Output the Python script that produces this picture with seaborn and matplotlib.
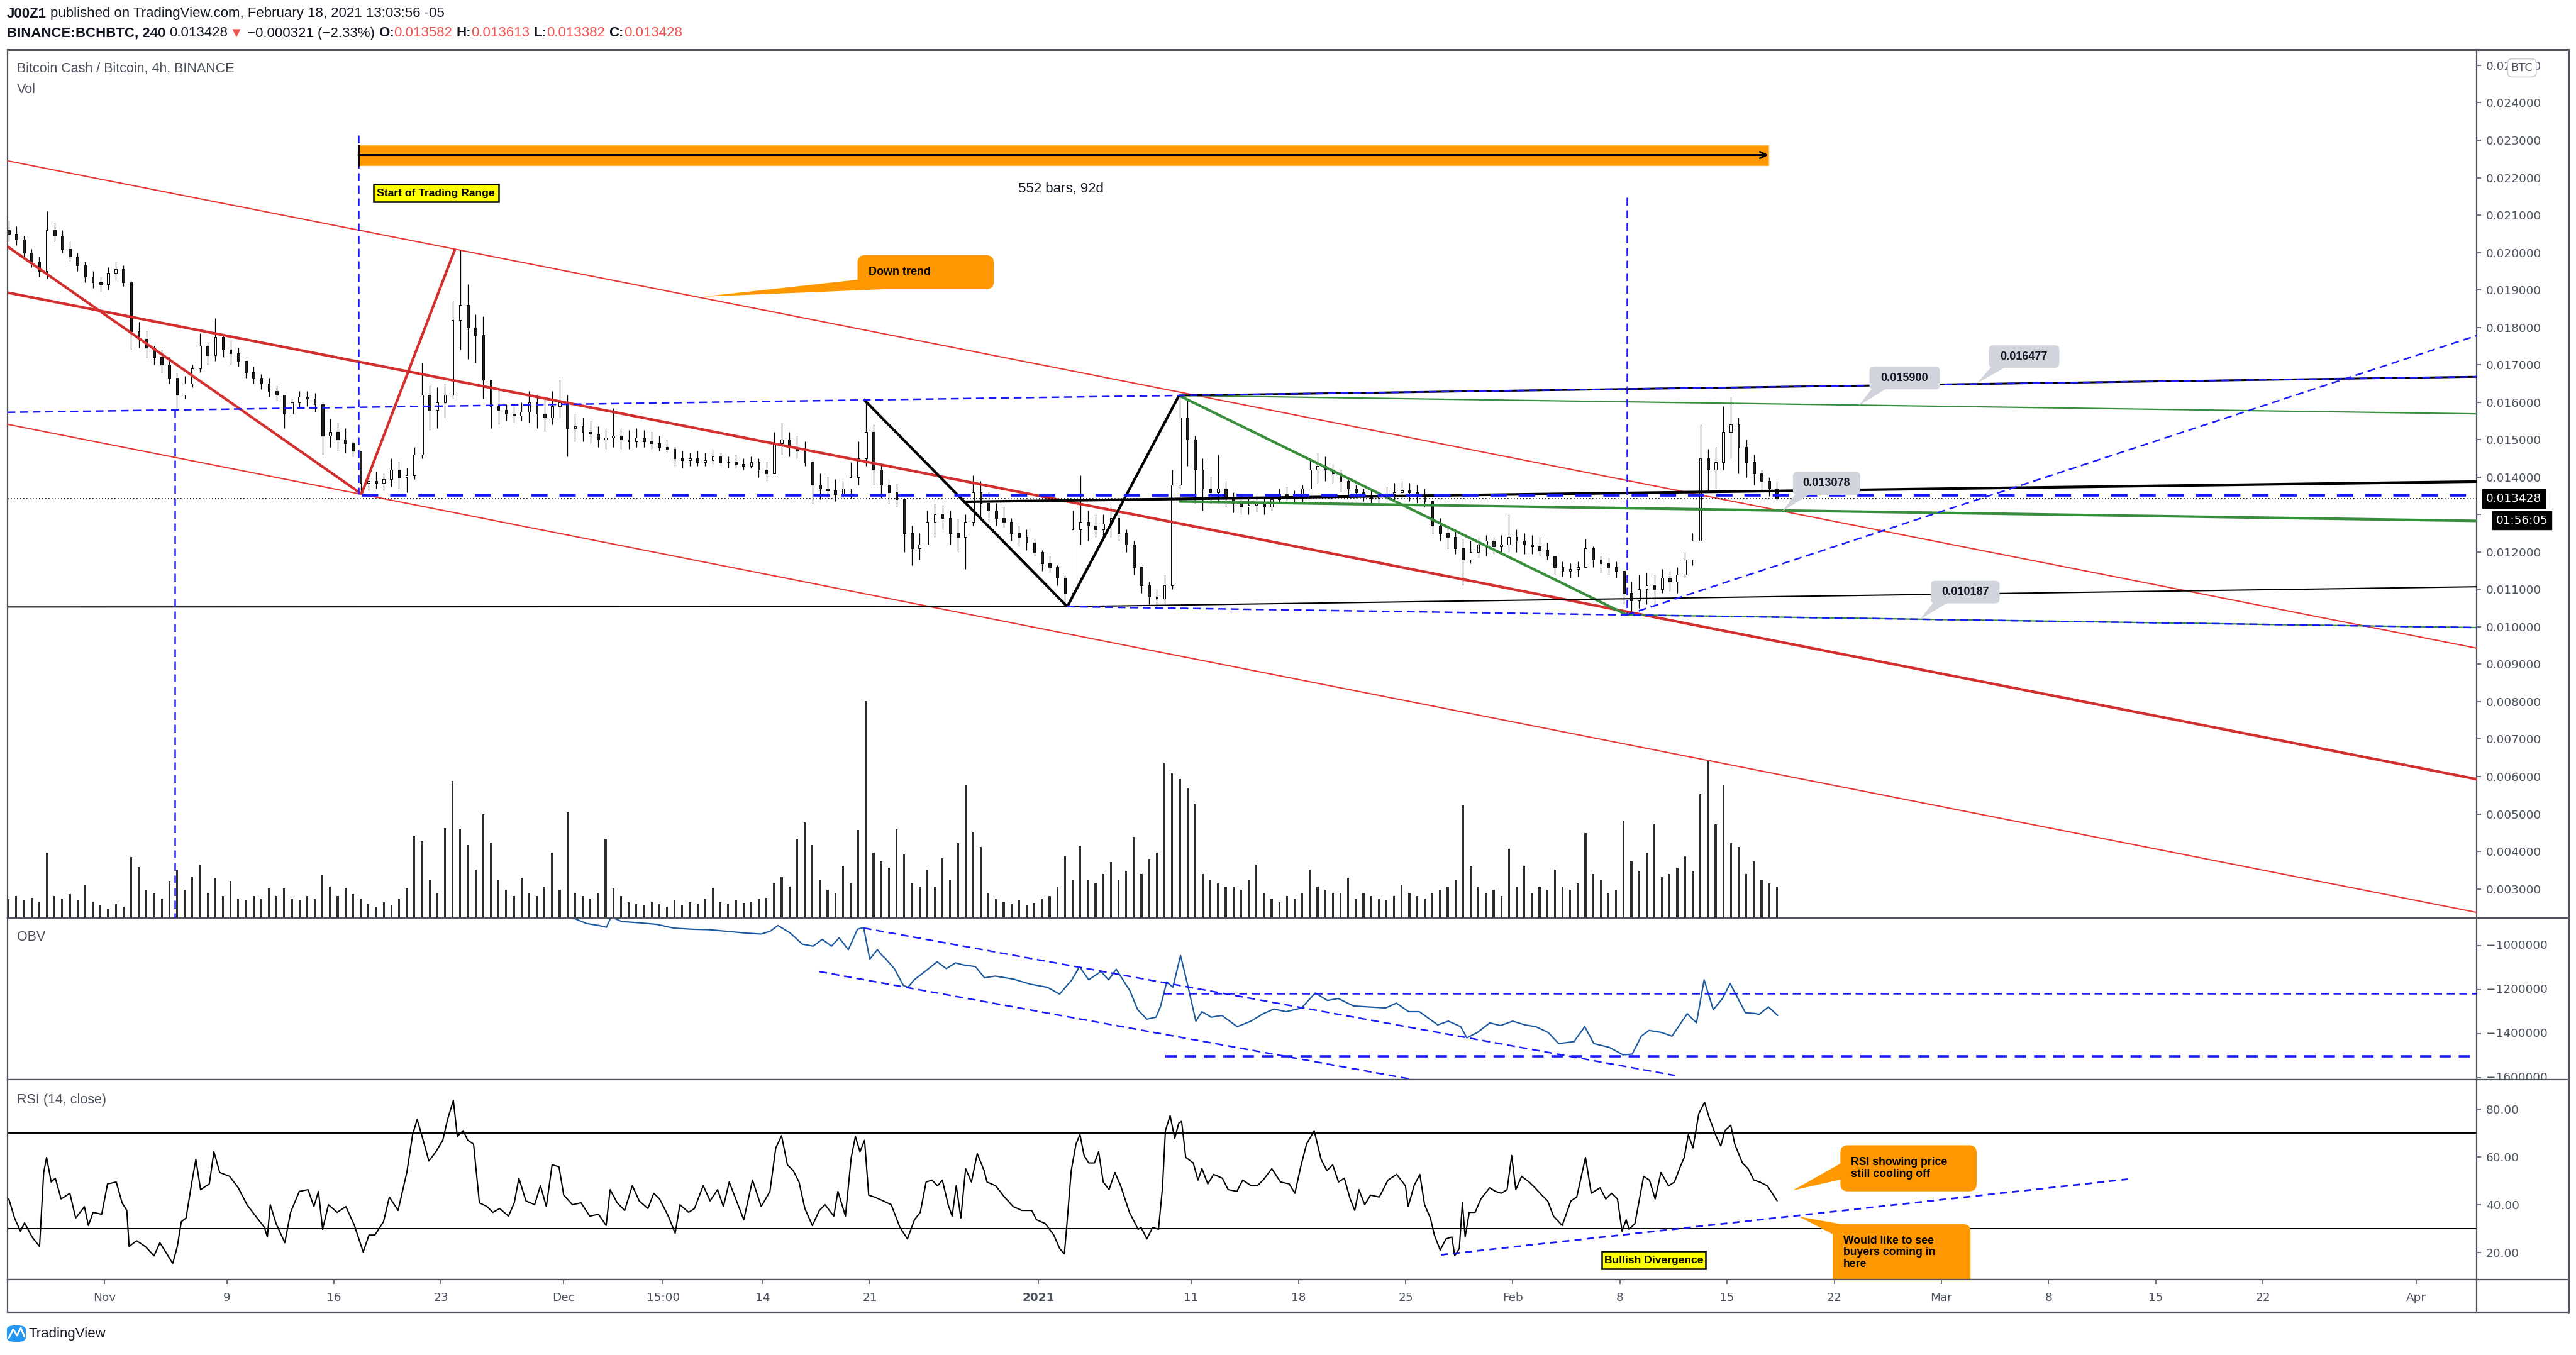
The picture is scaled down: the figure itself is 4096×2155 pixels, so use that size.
import numpy as np
import pandas as pd
import matplotlib
matplotlib.use("Agg")
import matplotlib.pyplot as plt
import seaborn as sns
from matplotlib import font_manager as fm
from matplotlib.patches import Rectangle, FancyBboxPatch, Polygon
from matplotlib.transforms import blended_transform_factory, Bbox, TransformedBbox
from matplotlib.lines import Line2D

# ======================= DATA =======================
first_bar = "2020-10-25 12:00"      # 12h bars, prices in units of 1e-5 BTC
price_unit = 1e-5
open_first = 2060
high = [2085, 2070, 2045, 2010, 1990, 2110, 2080, 2060, 2030, 2000,
        1975, 1950, 1935, 1960, 1975, 1965, 1925, 1815, 1790, 1750,
        1740, 1720, 1680, 1670, 1700, 1785, 1760, 1825, 1780, 1765,
        1745, 1710, 1695, 1675, 1665, 1645, 1615, 1610, 1630, 1630,
        1625, 1600, 1555, 1545, 1530, 1495, 1470, 1420, 1415, 1410,
        1450, 1440, 1425, 1480, 1705, 1645, 1640, 1650, 1870, 2008,
        1915, 1835, 1830, 1660, 1640, 1595, 1590, 1600, 1630, 1620,
        1610, 1630, 1660, 1620, 1570, 1560, 1550, 1535, 1530, 1585,
        1530, 1525, 1530, 1525, 1520, 1510, 1500, 1480, 1470, 1465,
        1470, 1465, 1475, 1465, 1455, 1460, 1450, 1455, 1450, 1440,
        1520, 1545, 1520, 1510, 1495, 1445, 1410, 1400, 1395, 1390,
        1440, 1495, 1605, 1540, 1435, 1395, 1385, 1340, 1270, 1250,
        1310, 1330, 1325, 1310, 1290, 1300, 1405, 1390, 1360, 1330,
        1320, 1290, 1270, 1260, 1235, 1205, 1190, 1165, 1140, 1310,
        1404, 1310, 1300, 1300, 1320, 1300, 1260, 1230, 1150, 1120,
        1100, 1140, 1420, 1618, 1610, 1510, 1450, 1400, 1460, 1390,
        1360, 1355, 1345, 1350, 1345, 1355, 1370, 1375, 1365, 1380,
        1445, 1465, 1455, 1435, 1420, 1400, 1380, 1370, 1365, 1360,
        1375, 1385, 1390, 1385, 1380, 1370, 1335, 1290, 1270, 1260,
        1235, 1230, 1240, 1245, 1240, 1245, 1300, 1260, 1250, 1245,
        1240, 1225, 1185, 1175, 1170, 1175, 1235, 1215, 1190, 1185,
        1175, 1150, 1120, 1140, 1145, 1140, 1155, 1150, 1160, 1200,
        1250, 1540, 1475, 1480, 1590, 1614, 1560, 1500, 1460, 1420,
        1400, 1390]
low = [2030, 2020, 1985, 1960, 1935, 1930, 2030, 2000, 1975, 1950,
       1920, 1905, 1895, 1900, 1925, 1910, 1740, 1745, 1720, 1700,
       1680, 1650, 1585, 1610, 1640, 1680, 1700, 1710, 1720, 1700,
       1695, 1665, 1650, 1635, 1615, 1605, 1530, 1570, 1585, 1590,
       1575, 1460, 1480, 1470, 1465, 1455, 1355, 1365, 1370, 1365,
       1375, 1370, 1360, 1395, 1450, 1525, 1530, 1560, 1610, 1740,
       1715, 1705, 1610, 1530, 1540, 1550, 1545, 1550, 1545, 1530,
       1520, 1540, 1560, 1455, 1495, 1495, 1490, 1480, 1475, 1480,
       1475, 1475, 1480, 1480, 1475, 1470, 1465, 1430, 1425, 1430,
       1430, 1430, 1435, 1430, 1425, 1425, 1420, 1425, 1400, 1390,
       1410, 1460, 1455, 1450, 1430, 1330, 1340, 1345, 1335, 1340,
       1345, 1380, 1430, 1380, 1345, 1330, 1320, 1200, 1165, 1180,
       1220, 1240, 1260, 1220, 1200, 1155, 1270, 1290, 1280, 1270,
       1265, 1230, 1215, 1205, 1190, 1150, 1145, 1110, 1054, 1080,
       1220, 1230, 1240, 1230, 1240, 1230, 1200, 1140, 1090, 1060,
       1054, 1060, 1100, 1370, 1430, 1330, 1310, 1330, 1330, 1320,
       1305, 1300, 1300, 1305, 1300, 1310, 1330, 1335, 1330, 1330,
       1370, 1385, 1390, 1385, 1360, 1350, 1345, 1335, 1330, 1330,
       1335, 1335, 1340, 1335, 1330, 1320, 1250, 1230, 1210, 1195,
       1110, 1170, 1185, 1190, 1195, 1195, 1200, 1200, 1195, 1195,
       1190, 1180, 1140, 1135, 1130, 1135, 1160, 1160, 1145, 1140,
       1130, 1060, 1035, 1050, 1060, 1055, 1090, 1095, 1090, 1130,
       1165, 1240, 1360, 1370, 1420, 1450, 1410, 1400, 1380, 1365,
       1350, 1335]
close = [2050, 2035, 2000, 1975, 1950, 2060, 2045, 2010, 1990, 1965,
         1935, 1920, 1915, 1945, 1955, 1920, 1790, 1770, 1745, 1720,
         1700, 1665, 1620, 1650, 1690, 1750, 1725, 1775, 1740, 1730,
         1710, 1680, 1665, 1650, 1630, 1620, 1570, 1600, 1615, 1610,
         1595, 1510, 1520, 1500, 1490, 1470, 1385, 1390, 1385, 1395,
         1420, 1400, 1405, 1460, 1620, 1580, 1600, 1620, 1820, 1860,
         1800, 1780, 1660, 1590, 1580, 1570, 1565, 1575, 1600, 1570,
         1560, 1590, 1600, 1530, 1535, 1520, 1515, 1500, 1505, 1510,
         1500, 1495, 1505, 1495, 1490, 1480, 1475, 1450, 1445, 1450,
         1440, 1445, 1455, 1440, 1440, 1435, 1430, 1440, 1420, 1410,
         1490, 1500, 1480, 1470, 1440, 1380, 1370, 1365, 1355, 1370,
         1400, 1450, 1520, 1420, 1380, 1360, 1340, 1250, 1210, 1220,
         1280, 1300, 1290, 1250, 1240, 1280, 1360, 1330, 1310, 1290,
         1280, 1250, 1240, 1225, 1200, 1170, 1160, 1130, 1090, 1260,
         1280, 1270, 1260, 1275, 1290, 1250, 1220, 1160, 1110, 1080,
         1075, 1110, 1380, 1560, 1500, 1420, 1370, 1360, 1370, 1345,
         1330, 1320, 1325, 1330, 1320, 1340, 1355, 1350, 1345, 1370,
         1420, 1430, 1420, 1410, 1390, 1370, 1360, 1350, 1345, 1350,
         1355, 1360, 1365, 1360, 1350, 1335, 1270, 1250, 1240, 1210,
         1180, 1200, 1220, 1230, 1215, 1220, 1240, 1230, 1220, 1215,
         1205, 1190, 1160, 1150, 1155, 1160, 1210, 1180, 1170, 1160,
         1150, 1090, 1070, 1100, 1110, 1100, 1130, 1120, 1140, 1180,
         1230, 1450, 1420, 1440, 1520, 1540, 1480, 1440, 1410, 1390,
         1370, 1343]
volume = [30, 35, 28, 32, 25, 104, 35, 30, 38, 28,
          52, 25, 20, 15, 22, 18, 97, 81, 44, 40,
          30, 59, 77, 45, 66, 85, 40, 64, 35, 59,
          30, 28, 35, 30, 47, 35, 47, 30, 28, 35,
          30, 68, 50, 35, 48, 38, 30, 22, 18, 25,
          20, 30, 47, 131, 122, 60, 40, 143, 218, 141,
          116, 77, 165, 120, 60, 45, 35, 64, 40, 35,
          50, 104, 45, 168, 40, 35, 30, 40, 126, 47,
          35, 25, 22, 20, 25, 22, 18, 28, 20, 25,
          22, 30, 48, 25, 22, 28, 24, 26, 30, 32,
          55, 65, 50, 125, 152, 116, 60, 45, 40, 83,
          55, 140, 345, 104, 90, 80, 141, 101, 55, 50,
          77, 50, 95, 60, 119, 212, 137, 113, 40, 30,
          25, 22, 28, 20, 24, 30, 35, 50, 98, 60,
          115, 60, 55, 70, 89, 60, 75, 129, 70, 94,
          104, 247, 230, 221, 206, 181, 70, 60, 55, 50,
          50, 45, 60, 85, 40, 30, 25, 35, 30, 40,
          77, 50, 45, 40, 40, 64, 30, 40, 35, 30,
          28, 35, 53, 40, 35, 30, 40, 45, 50, 60,
          179, 83, 50, 40, 45, 35, 110, 50, 83, 40,
          50, 45, 77, 50, 45, 55, 135, 70, 60, 40,
          45, 155, 90, 75, 104, 149, 65, 70, 80, 98,
          75, 197, 251, 149, 212, 119, 113, 70, 90, 60,
          55, 50]

# OBV (days since 2020-11-01, thousands)
obv_points = [(30.2, -866), (30.8, -880), (31.5, -900), (32.3, -909), (32.8, -917), (33.1, -870),
              (33.8, -891), (35.0, -897), (36.1, -904), (37.2, -921), (38.4, -926), (39.5, -928),
              (40.6, -935), (41.8, -943), (42.9, -948), (43.5, -935), (44.0, -909), (44.8, -943),
              (45.6, -994), (46.3, -1003), (46.9, -972), (47.5, -1003), (48.0, -965), (48.6, -1019),
              (49.2, -926), (49.6, -918), (50.0, -1062), (50.5, -1019), (50.8, -1045), (51.0, -1057),
              (51.6, -1105), (52.2, -1182), (52.5, -1190), (52.9, -1156), (53.7, -1113), (54.4, -1074),
              (55.0, -1105), (55.6, -1079), (56.1, -1088), (56.9, -1096), (57.5, -1147), (58.2, -1139),
              (59.4, -1153), (60.5, -1176), (61.6, -1190), (62.4, -1221), (63.2, -1156), (63.7, -1096),
              (64.3, -1156), (65.1, -1118), (65.6, -1156), (66.1, -1108), (67.0, -1207), (67.5, -1292),
              (68.1, -1335), (68.7, -1326), (69.0, -1275), (69.4, -1165), (69.8, -1190), (70.3, -1045),
              (70.8, -1190), (71.3, -1344), (71.7, -1301), (72.3, -1326), (73.0, -1318), (74.0, -1369),
              (74.9, -1344), (75.7, -1310), (76.4, -1289), (77.2, -1301), (78.2, -1284), (79.1, -1216),
              (79.9, -1250), (80.6, -1241), (81.6, -1275), (82.5, -1279), (83.7, -1284), (84.4, -1262),
              (85.2, -1301), (85.9, -1301), (87.1, -1361), (87.8, -1344), (88.6, -1369), (89.0, -1420),
              (89.7, -1395), (90.5, -1352), (91.2, -1364), (92.0, -1344), (92.8, -1361), (93.5, -1369),
              (94.3, -1395), (95.0, -1446), (96.0, -1437), (96.7, -1369), (97.3, -1446), (98.3, -1463),
              (99.2, -1497), (99.8, -1494), (100.4, -1412), (100.9, -1386), (101.7, -1395), (102.4, -1412),
              (103.4, -1310), (104.0, -1352), (104.5, -1156), (105.1, -1292), (105.7, -1241), (106.2, -1173),
              (107.2, -1306), (107.8, -1309), (108.1, -1313), (108.7, -1279), (109.3, -1318)]

# RSI(14) (days since 2020-11-01, value)
rsi_points = [(-6.24, 42.4), (-5.86, 34.4), (-5.48, 28.9), (-5.21, 32.4), (-4.72, 26.5), (-4.23, 22.5),
              (-3.96, 53.5), (-3.77, 59.8), (-3.47, 49.5), (-3.20, 51.1), (-2.82, 42.4), (-2.25, 44.8),
              (-1.87, 34.4), (-1.30, 39.2), (-1.04, 31.3), (-0.73, 36.8), (-0.17, 36.0), (0.21, 48.7),
              (0.78, 49.5), (1.16, 40.8), (1.47, 37.6), (1.62, 22.5), (2.11, 24.9), (2.68, 22.5),
              (3.25, 18.6), (3.63, 24.1), (4.01, 20.2), (4.47, 15.4), (4.77, 22.5), (5.03, 32.9),
              (5.34, 34.4), (5.72, 49.5), (5.98, 59.0), (6.29, 46.3), (6.86, 48.7), (7.16, 62.2),
              (7.54, 53.5), (8.18, 51.9), (8.75, 47.1), (9.32, 40.0), (9.89, 35.2), (10.46, 30.5),
              (10.65, 26.5), (10.84, 40.0), (11.22, 32.1), (11.79, 24.1), (12.17, 36.8), (12.74, 45.6),
              (13.31, 46.3), (13.69, 39.2), (13.99, 45.6), (14.26, 29.7), (14.64, 40.0), (15.21, 36.8),
              (15.78, 39.2), (16.34, 31.3), (16.91, 20.2), (17.29, 27.3), (17.67, 27.3), (18.24, 32.9),
              (18.62, 43.2), (19.19, 37.6), (19.76, 53.5), (20.14, 69.4), (20.44, 75.7), (20.90, 65.4),
              (21.20, 58.3), (21.66, 62.2), (22.11, 67.0), (22.42, 75.7), (22.80, 83.7), (23.06, 68.6),
              (23.44, 71.0), (23.74, 67.0), (24.12, 65.4), (24.50, 40.8), (25.00, 39.2), (25.38, 36.8),
              (25.83, 38.4), (26.40, 35.2), (26.78, 40.8), (27.08, 51.1), (27.54, 41.6), (28.11, 40.0),
              (28.49, 48.0), (28.87, 39.2), (29.25, 56.7), (29.70, 55.9), (30.01, 44.0), (30.58, 40.0),
              (31.14, 40.8), (31.71, 35.2), (32.28, 36.0), (32.78, 31.3), (33.04, 46.3), (33.50, 40.8),
              (33.99, 37.6), (34.49, 48.0), (34.94, 41.6), (35.51, 38.4), (35.89, 44.8), (36.27, 42.4),
              (36.84, 35.2), (37.29, 28.1), (37.60, 40.0), (38.17, 36.8), (38.55, 38.4), (39.12, 48.0),
              (39.57, 41.6), (40.06, 46.3), (40.44, 39.2), (40.82, 49.5), (41.39, 40.0), (41.77, 33.7),
              (42.34, 50.3), (42.91, 39.2), (43.48, 45.6), (43.86, 63.8), (44.24, 68.9), (44.62, 56.7),
              (45.00, 54.3), (45.38, 49.5), (45.76, 38.4), (46.25, 31.3), (46.71, 37.6), (47.08, 40.0),
              (47.65, 35.2), (47.92, 45.6), (48.41, 35.2), (48.79, 59.8), (49.06, 68.6), (49.36, 62.2),
              (49.66, 67.0), (49.93, 44.0), (50.31, 43.2), (50.88, 41.6), (51.40, 40.0), (51.97, 30.5),
              (52.46, 25.7), (52.92, 33.7), (53.30, 36.8), (53.68, 49.5), (54.06, 50.3), (54.43, 47.9),
              (54.74, 50.3), (55.12, 40.0), (55.38, 35.2), (55.65, 48.0), (55.95, 34.4), (56.26, 55.1),
              (56.64, 49.5), (57.02, 61.4), (57.47, 54.3), (57.66, 49.5), (58.23, 47.9), (58.80, 43.2),
              (59.37, 39.2), (59.94, 37.6), (60.58, 37.6), (60.89, 33.7), (61.46, 32.1), (62.02, 27.3),
              (62.40, 21.7), (62.71, 19.4), (62.86, 30.5), (63.16, 54.3), (63.47, 65.4), (63.73, 69.4),
              (64.00, 60.6), (64.30, 57.5), (64.68, 57.5), (64.95, 62.2), (65.25, 49.5), (65.63, 46.3),
              (66.01, 53.5), (66.39, 47.9), (66.96, 36.8), (67.53, 29.7), (67.72, 30.5), (68.10, 25.7),
              (68.48, 30.5), (68.86, 29.7), (69.12, 47.1), (69.31, 71.0), (69.62, 77.3), (69.92, 67.8),
              (70.18, 74.1), (70.37, 74.9), (70.64, 59.8), (71.13, 57.5), (71.44, 50.3), (71.70, 55.1),
              (72.08, 48.7), (72.46, 52.7), (73.03, 51.1), (73.41, 46.3), (73.98, 45.6), (74.36, 50.3),
              (74.93, 47.9), (75.31, 47.9), (75.69, 50.3), (76.26, 55.1), (76.83, 49.5), (77.40, 48.7),
              (77.77, 44.8), (78.15, 55.9), (78.53, 65.4), (79.03, 71.0), (79.48, 59.0), (79.86, 54.3),
              (80.24, 56.7), (80.62, 49.5), (81.00, 51.1), (81.38, 42.4), (81.68, 37.6), (81.95, 46.3),
              (82.33, 40.0), (82.71, 44.0), (83.28, 43.2), (83.85, 50.3), (84.42, 52.7), (84.99, 47.9),
              (85.17, 39.2), (85.55, 47.9), (85.93, 52.7), (86.24, 40.0), (86.62, 34.4), (86.88, 27.3),
              (87.26, 21.0), (87.64, 25.7), (88.02, 26.5), (88.21, 18.6), (88.51, 21.7), (88.71, 40.8),
              (88.89, 26.5), (89.16, 36.8), (89.54, 36.8), (89.92, 42.4), (90.49, 47.1), (90.87, 45.6),
              (91.25, 44.8), (91.63, 46.3), (91.93, 60.6), (92.20, 46.3), (92.58, 51.9), (93.07, 49.5),
              (93.45, 47.1), (93.90, 44.0), (94.28, 41.6), (94.66, 35.2), (95.23, 31.3), (95.80, 41.6),
              (96.18, 43.2), (96.75, 59.8), (97.13, 44.8), (97.70, 47.1), (98.08, 42.4), (98.46, 44.8),
              (98.84, 42.4), (99.14, 28.9), (99.41, 33.7), (99.60, 29.7), (99.98, 32.1), (100.55, 51.9),
              (100.93, 50.3), (101.30, 42.4), (101.68, 53.5), (102.18, 47.9), (102.56, 49.5), (102.94, 55.9),
              (103.20, 59.8), (103.47, 69.4), (103.77, 63.8), (104.15, 78.1), (104.53, 82.9), (104.83, 76.5),
              (105.29, 68.6), (105.59, 64.6), (105.86, 71.0), (106.24, 73.3), (106.50, 65.4), (107.00, 57.5),
              (107.37, 55.1), (107.75, 50.3), (108.13, 49.5), (108.63, 47.9), (109.27, 41.6)]

last_price = 0.013428
price_ticks = [0.003, 0.004, 0.005, 0.006, 0.007, 0.008, 0.009, 0.010, 0.011, 0.012, 0.013,
               0.014, 0.015, 0.016, 0.017, 0.018, 0.019, 0.020, 0.021, 0.022, 0.023, 0.024, 0.025]
hidden_price_ticks = [0.013]   # covered by the last-price / countdown boxes in the reference
obv_ticks = [-1000000, -1200000, -1400000, -1600000]
obv_labels = ["\u22121000000", "\u22121200000", "\u22121400000", "\u22121600000"]
rsi_ticks = [20, 40, 60, 80]
rsi_labels = ["20.00", "40.00", "60.00", "80.00"]
time_ticks = [0, 8, 15, 22, 30, 36.5, 43, 50, 61, 71, 78, 85, 92, 99, 106, 113, 120, 127, 134, 141, 151]
time_labels = ["Nov", "9", "16", "23", "Dec", "15:00", "14", "21", "2021", "11", "18", "25",
               "Feb", "8", "15", "22", "Mar", "8", "15", "22", "Apr"]

# drawings: (day0, value0, day1, value1)
X0, X1 = -6.32, 154.96
P_LO, P_HI = 0.00222, 0.025426
red_thin = [(X0, 0.02245, X1, 0.00943), (X0, 0.01541, X1, 0.00237)]
red_thick = [(X0, 0.01893, X1, 0.00593), (X0, 0.02016, 16.8, 0.01355), (16.8, 0.01355, 22.9, 0.02008)]
black_thick = [(56.1, 0.01334, X1, 0.01388), (49.6, 0.01608, 62.9, 0.01054), (62.9, 0.01054, 70.2, 0.01618)]
black_mid = [(70.2, 0.01618, X1, 0.01668)]
black_thin = [(X0, 0.01053, 62.9, 0.01054), (62.9, 0.01054, X1, 0.01107)]
green_thick = [(70.2, 0.01618, 99.45, 0.01032), (70.2, 0.01335, X1, 0.01283)]
green_thin = [(70.2, 0.01618, X1, 0.01569), (99.45, 0.01032, X1, 0.00998)]
blue_dash = [(X0, 0.01573, X1, 0.01668), (62.9, 0.01054, X1, 0.00998), (99.45, 0.01032, X1, 0.01778),
             (4.6, 0.01579, 4.6, P_LO), (16.6, 0.02314, 16.6, 0.01355), (99.47, 0.02147, 99.47, 0.01032)]
blue_thick_dash = [(16.8, 0.01353, X1, 0.01353)]
range_bar = (16.6, 108.7, 0.022333, 0.022872, 0.022605)
obv_dash = [(49.6, -920600, 102.6, -1591000), (46.7, -1118500, 86.0, -1616000),
            (69.2, -1217000, X1, -1217000)]
obv_thick_dash = [(69.3, -1505000, X1, -1505000)]
rsi_dash = [(87.3, 19.0, 132.2, 50.7)]
price_callouts = [("0.015900", 115.3, 119.9, 0.016344, 0.016951, 114.6, 0.01591),
                  ("0.016477", 123.1, 127.7, 0.016920, 0.017522, 122.3, 0.016498),
                  ("0.013078", 110.3, 114.7, 0.013525, 0.014141, 109.6, 0.013085),
                  ("0.010187", 119.3, 123.8, 0.010627, 0.011230, 118.6, 0.010200)]

# ======================= STYLE / LAYOUT =======================
W, H, DPI = 4096, 2155, 100
sns.set_theme(style="white")
_names = {f.name for f in fm.fontManager.ttflist}
SANS = "Liberation Sans" if "Liberation Sans" in _names else "DejaVu Sans"
plt.rcParams["font.family"] = [SANS, "DejaVu Sans"]
FAM = [SANS, "DejaVu Sans"]
AXF = ["DejaVu Sans"]
FRAME = "#50535e"
AXTXT = "#4c525e"
INK = "#131722"
RED = "#e53935"
RED_D = "#d32f2f"
GREEN = "#388e3c"
BLUE = "#1a1aff"
ORANGE = "#ff9800"

fig = plt.figure(figsize=(W / DPI, H / DPI), dpi=DPI)
fig.patch.set_facecolor("white")


def fx(px):
    return px / W


def fy(py):
    return 1 - py / H


PL, PR, PRO = 12, 3938, 4084
Y_TOP, Y_P, Y_O, Y_R, Y_T = 78.6, 1460, 1717, 2035, 2087


def rect(y0, y1):
    return [fx(PL), fy(y1), fx(PR) - fx(PL), (y1 - y0) / H]


ax_p = fig.add_axes(rect(Y_TOP, Y_P))
ax_v = fig.add_axes(rect(Y_TOP, Y_P), sharex=ax_p)
ax_o = fig.add_axes(rect(Y_P, Y_O), sharex=ax_p)
ax_r = fig.add_axes(rect(Y_O, Y_R), sharex=ax_p)
ax_t = fig.add_axes(rect(Y_R, Y_T), sharex=ax_p)
ax_v.set_zorder(1)
ax_p.set_zorder(2)
ax_p.patch.set_visible(False)
ax_v.axis("off")

# ---------------- candles + volume ----------------
n = len(close)
assert all(len(a) == n for a in (high, low, volume))
times = pd.date_range(first_bar, periods=n, freq="12h")
day = ((times - pd.Timestamp("2020-11-01")) / pd.Timedelta(days=1)).to_numpy() + 0.25
c = np.array(close) * price_unit
o = np.r_[open_first, close[:-1]] * price_unit
h = np.array(high) * price_unit
lo = np.array(low) * price_unit
up = c >= o

ax_p.vlines(day, lo, h, color="black", lw=0.9, zorder=2)
ax_p.bar(day[up], (c - o)[up], bottom=o[up], width=0.15, facecolor="white",
         edgecolor="black", lw=0.7, zorder=2.1)
ax_p.bar(day[~up], (o - c)[~up], bottom=c[~up], width=0.15, facecolor="#222222",
         edgecolor="black", lw=0.7, zorder=2.1)
ax_v.bar(day, np.array(volume, float), width=0.13, color="#2b2b2b", lw=0)
ax_v.set_ylim(0, 1382)

ax_p.set_xlim(X0, X1)
ax_p.set_ylim(P_LO, P_HI)


def seg(ax, lst, **kw):
    for x0, y0, x1, y1 in lst:
        ax.plot([x0, x1], [y0, y1], solid_capstyle="butt", **kw)


seg(ax_p, red_thin, color=RED, lw=1.5, zorder=3)
seg(ax_p, red_thick, color=RED_D, lw=3.0, zorder=3.2)
seg(ax_p, green_thin, color=GREEN, lw=1.6, zorder=3.3)
seg(ax_p, green_thick, color=GREEN, lw=3.0, zorder=3.3)
seg(ax_p, black_thin, color="black", lw=1.5, zorder=3.4)
seg(ax_p, black_mid, color="black", lw=2.2, zorder=3.4)
seg(ax_p, black_thick, color="black", lw=3.0, zorder=3.5)
seg(ax_p, blue_dash, color=BLUE, lw=1.8, dashes=(5, 3), zorder=3.6)
seg(ax_p, blue_thick_dash, color=BLUE, lw=3.4, dashes=(5.5, 4), zorder=3.7)
ax_p.axhline(last_price, color="black", lw=1.2, ls=(0, (1, 2)), zorder=3.8)

# orange range bar
rx0, rx1, ry0, ry1, rym = range_bar
ax_p.add_patch(Rectangle((rx0, ry0), rx1 - rx0, ry1 - ry0, fc=ORANGE, ec="#ffb74d", lw=1, zorder=4))
ax_p.plot([rx0, rx0], [ry0, ry1], color="black", lw=2.2, zorder=4.1)
ax_p.annotate("", xy=(rx1, rym), xytext=(rx0, rym),
              arrowprops=dict(arrowstyle="->", lw=2.2, color="black", shrinkA=0, shrinkB=0,
                              mutation_scale=18), zorder=4.2)
ax_p.text(62.5, 0.02170, "552 bars, 92d", ha="center", va="center", fontsize=16, color=INK,
          family=FAM, zorder=4.2)


def pane_pp(ax):
    pos = ax.get_position()
    x0, x1 = ax.get_xlim()
    y0, y1 = ax.get_ylim()
    return (x1 - x0) / (pos.width * W), (y1 - y0) / (pos.height * H)


def rbox(ax, x0, x1, y0, y1, fc, rad_px=9, ec="none", lw=0, z=6):
    xpp, ypp = pane_pp(ax)
    p = FancyBboxPatch((x0, y0), x1 - x0, y1 - y0,
                       boxstyle=f"round,pad=0,rounding_size={rad_px * xpp}",
                       mutation_aspect=ypp / xpp, fc=fc, ec=ec, lw=lw, zorder=z)
    ax.add_patch(p)


# "Start of Trading Range" label
ax_p.add_patch(Rectangle((17.57, 0.021354), 25.76 - 17.57, 0.021819 - 0.021354, fc="#ffff00",
                         ec="black", lw=1.8, zorder=6))
ax_p.text((17.57 + 25.76) / 2, (0.021354 + 0.021819) / 2, "Start of Trading Range", ha="center",
          va="center", fontsize=12.6, fontweight="bold", color="black", family=FAM, zorder=6.1)

# "Down trend" callout
rbox(ax_p, 49.2, 58.1, 0.01902, 0.01993, ORANGE, rad_px=12)
ax_p.add_patch(Polygon([(39.1, 0.01882), (49.8, 0.01930), (51.0, 0.01902)], closed=True,
                       fc=ORANGE, ec="none", zorder=6))
ax_p.text(49.9, 0.01948, "Down trend", ha="left", va="center", fontsize=13, fontweight="bold",
          color="black", family=FAM, zorder=6.1)

# grey price callouts
for lab, bx0, bx1, by0, by1, tx, ty in price_callouts:
    rbox(ax_p, bx0, bx1, by0, by1, "#d1d4dc", rad_px=7, z=6)
    hh = by1 - by0
    ax_p.add_patch(Polygon([(tx, ty), (bx0 + 0.3, by0 + 0.15 * hh), (bx0 + 1.4, by0 + 0.15 * hh)],
                           closed=True, fc="#d1d4dc", ec="none", zorder=6))
    ax_p.text((bx0 + bx1) / 2, (by0 + by1) / 2, lab, ha="center", va="center", fontsize=13,
              fontweight="bold", color=INK, family=FAM, zorder=6.1)

# ---------------- OBV ----------------
obv_x = [d for d, _ in obv_points]
obv_y = [v * 1000 for _, v in obv_points]
sns.lineplot(x=obv_x, y=obv_y, ax=ax_o, color="#1e5a9e", linewidth=1.6, sort=False,
             estimator=None, zorder=3)
ax_o.set_ylim(-1609700, -875000)
seg(ax_o, obv_dash, color=BLUE, lw=1.8, dashes=(5, 3), zorder=4)
seg(ax_o, obv_thick_dash, color=BLUE, lw=2.6, dashes=(5, 3.5), zorder=4)

# ---------------- RSI ----------------
rsi_x = [d for d, _ in rsi_points]
rsi_y = [v for _, v in rsi_points]
ax_r.set_ylim(8.66, 92.4)
ax_r.axhline(70, color="black", lw=1.4, zorder=2)
ax_r.axhline(30, color="black", lw=1.4, zorder=2)
sns.lineplot(x=rsi_x, y=rsi_y, ax=ax_r, color="black", linewidth=1.5, sort=False,
             estimator=None, zorder=3)
seg(ax_r, rsi_dash, color=BLUE, lw=2.0, dashes=(4, 3), zorder=4)

ax_r.add_patch(Rectangle((97.8, 13.1), 104.6 - 97.8, 20.4 - 13.1, fc="#ffff00", ec="black",
                         lw=1.8, zorder=6))
ax_r.text(101.2, 16.75, "Bullish Divergence", ha="center", va="center", fontsize=12.6,
          fontweight="bold", color="black", family=FAM, zorder=6.1)

rbox(ax_r, 113.4, 122.3, 45.6, 64.9, ORANGE, rad_px=12)
ax_r.add_patch(Polygon([(110.3, 46.0), (113.8, 58.7), (113.8, 51.1)], closed=True, fc=ORANGE,
                       ec="none", zorder=6))
ax_r.text(114.1, 55.25, "RSI showing price\nstill cooling off", ha="left", va="center",
          fontsize=12.7, fontweight="bold", color="black", family=FAM, linespacing=1.1, zorder=6.1)

rbox(ax_r, 112.9, 121.9, -5.0, 31.9, ORANGE, rad_px=12)
ax_r.add_patch(Polygon([(110.7, 35.0), (114.2, 31.0), (113.1, 27.0)], closed=True, fc=ORANGE,
                       ec="none", zorder=6))
ax_r.text(113.6, 20.0, "Would like to see\nbuyers coming in\nhere", ha="left", va="center",
          fontsize=12.7, fontweight="bold", color="black", family=FAM, linespacing=1.1, zorder=6.1)

# ---------------- axes cosmetics ----------------
for ax in (ax_p, ax_o, ax_r, ax_t):
    for s in ax.spines.values():
        s.set_visible(True)
        s.set_color(FRAME)
        s.set_linewidth(1.6)
    ax.set_xlabel("")
    ax.set_ylabel("")
    ax.grid(False)
for ax in (ax_p, ax_o, ax_r):
    ax.tick_params(axis="x", bottom=False, labelbottom=False, top=False)
    ax.yaxis.tick_right()
    ax.tick_params(axis="y", which="both", direction="out", length=5, width=1.2, color=FRAME,
                   left=False, right=True, labelleft=False, labelright=True,
                   labelsize=13.3, labelcolor=AXTXT, pad=5.5)
ax_p.spines["top"].set_linewidth(2.2)

ax_p.set_yticks(price_ticks)
ax_p.set_yticklabels(["" if t in hidden_price_ticks else f"{t:.6f}" for t in price_ticks],
                     family=AXF)
ax_r.set_yticks(rsi_ticks)
ax_r.set_yticklabels(rsi_labels, family=AXF)
ax_o.set_yticks(obv_ticks)
ax_o.set_yticklabels([""] * len(obv_ticks))
clip = TransformedBbox(Bbox([[0, fy(Y_O)], [1, fy(Y_P)]]), fig.transFigure)
tr_o = blended_transform_factory(ax_o.transAxes, ax_o.transData)
for val, lab in zip(obv_ticks, obv_labels):
    t = ax_o.text(1 + 15 / (PR - PL), val, lab, transform=tr_o, ha="left", va="center",
                  fontsize=13.3, color=AXTXT, family=AXF)
    t.set_clip_on(True)
    t.set_clip_box(clip)

ax_t.set_ylim(0, 1)
ax_t.set_yticks([])
ax_t.set_xticks(time_ticks)
ax_t.tick_params(axis="x", which="both", top=True, bottom=False, direction="in", length=5,
                 width=1.2, color=FRAME, labelbottom=False, labeltop=False)
tr_t = blended_transform_factory(ax_t.transData, ax_t.transAxes)
for d, lab in zip(time_ticks, time_labels):
    ax_t.text(d, 0.45, lab, transform=tr_t, ha="center", va="center", fontsize=13.3,
              color=AXTXT, family=AXF, fontweight="bold" if lab == "2021" else "normal")

# frame of the price-scale column
for yy in (Y_TOP, Y_P, Y_O, Y_R, Y_T):
    fig.add_artist(Line2D([fx(PR), fx(PRO)], [fy(yy), fy(yy)], transform=fig.transFigure,
                          color=FRAME, lw=2.2 if yy == Y_TOP else 1.6))
fig.add_artist(Line2D([fx(PRO), fx(PRO)], [fy(Y_TOP), fy(Y_T)], transform=fig.transFigure,
                      color=FRAME, lw=2.2))

# last price + countdown boxes, BTC unit box
trp = blended_transform_factory(ax_p.transAxes, ax_p.transData)
ax_p.text(1 + 15 / (PR - PL), last_price, "0.013428", transform=trp, ha="left", va="center",
          fontsize=13.3, color="white", family=AXF, zorder=20, clip_on=False,
          bbox=dict(boxstyle="square,pad=0.32", fc="black", ec="black"))
ax_p.annotate("01:56:05", xy=(1, last_price), xycoords=trp, xytext=(22, -25),
              textcoords="offset points", ha="left", va="center", fontsize=13.3, color="white",
              family=AXF, zorder=20, annotation_clip=False,
              bbox=dict(boxstyle="square,pad=0.32", fc="black", ec="black"))
fig.text(fx(4010), fy(108), "BTC", ha="center", va="center", fontsize=13, color=AXTXT, family=AXF,
         bbox=dict(boxstyle="round,pad=0.3,rounding_size=0.4", fc="white", ec="#c9ccd4", lw=1.2),
         zorder=30)

# ---------------- header & legends ----------------
renderer = fig.canvas.get_renderer()


def rich(x_px, y_px, parts, size):
    x = x_px
    gap = 0.28 * size * DPI / 72
    for txt, color, weight, g in parts:
        x += g * gap
        t = fig.text(fx(x), fy(y_px), txt, color=color, fontweight=weight, fontsize=size,
                     ha="left", va="center", family=FAM)
        x += t.get_window_extent(renderer=renderer).width


HRED = "#ef5350"
rich(11, 22, [("J00Z1", INK, "bold", 0),
              ("published on TradingView.com, February 18, 2021 13:03:56 -05", INK, "normal", 1)], 16)
rich(11, 53, [("BINANCE:BCHBTC, 240", INK, "bold", 0), ("0.013428", INK, "normal", 1),
              ("\u25bc", HRED, "normal", 0.3), ("\u22120.000321 (\u22122.33%)", INK, "normal", 1),
              ("O:", INK, "bold", 1), ("0.013582", HRED, "normal", 0), ("H:", INK, "bold", 1),
              ("0.013613", HRED, "normal", 0), ("L:", INK, "bold", 1), ("0.013382", HRED, "normal", 0),
              ("C:", INK, "bold", 1), ("0.013428", HRED, "normal", 0)], 16)

LEG = "#4a4e59"
fig.text(fx(27), fy(110), "Bitcoin Cash / Bitcoin, 4h, BINANCE", ha="left", va="center",
         fontsize=15.5, color=LEG, family=FAM)
fig.text(fx(27), fy(142), "Vol", ha="left", va="center", fontsize=15.5, color=LEG, family=FAM)
fig.text(fx(27), fy(1491), "OBV", ha="left", va="center", fontsize=15.5, color=LEG, family=FAM)
fig.text(fx(27), fy(1749), "RSI (14, close)", ha="left", va="center", fontsize=15.5, color=LEG,
         family=FAM)

# TradingView logo
fig.add_artist(FancyBboxPatch((fx(11), fy(2134)), fx(30), 26 / H,
                              boxstyle="round,pad=0,rounding_size=0.003",
                              transform=fig.transFigure, fc="#2196f3", ec="none"))
fig.add_artist(Line2D([fx(14), fx(21), fx(27), fx(33), fx(39)],
                      [fy(2128), fy(2114), fy(2124), fy(2112), fy(2126)],
                      transform=fig.transFigure, color="white", lw=2))
fig.text(fx(46), fy(2121), "TradingView", ha="left", va="center", fontsize=16, color=INK,
         family=FAM)

fig.savefig("out.png", dpi=DPI, facecolor="white")
